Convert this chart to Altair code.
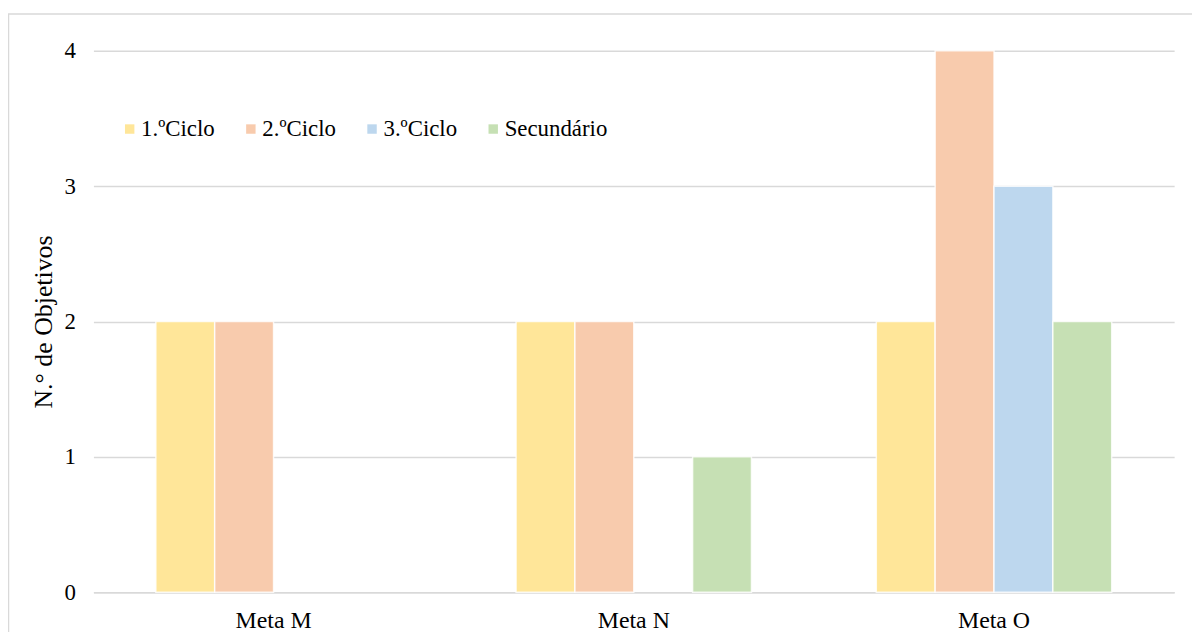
import altair as alt
import pandas as pd

categories = ["Meta M", "Meta N", "Meta O"]
series = ["1.ºCiclo", "2.ºCiclo", "3.ºCiclo", "Secundário"]
values_1ciclo = [2, 2, 2]
values_2ciclo = [2, 2, 4]
values_3ciclo = [0, 0, 3]
values_secundario = [0, 1, 2]
y_ticks = [0, 1, 2, 3, 4]
colors = ["#FFE699", "#F8CBAD", "#BDD7EE", "#C6E0B4"]

rows = []
for s, vals in zip(series, [values_1ciclo, values_2ciclo, values_3ciclo, values_secundario]):
    for c, v in zip(categories, vals):
        rows.append({"Meta": c, "Serie": s, "Valor": v})
df = pd.DataFrame(rows)

FONT = "Liberation Serif"

bars = alt.Chart(df).transform_filter("datum.Valor > 0").mark_bar(
    stroke="white", strokeWidth=1.5, strokeOpacity=0.8
).encode(
    x=alt.X("Meta:N", sort=categories,
            scale=alt.Scale(paddingInner=0.3466, paddingOuter=0.1733),
            axis=alt.Axis(title=None, labelAngle=0, ticks=False, tickSize=0,
                          labelPadding=17, domainColor="#d9d9d9", domainWidth=1.5,
                          labelFontSize=24, labelFont=FONT, labelColor="#000000")),
    xOffset=alt.XOffset("Serie:N", sort=series,
                        scale=alt.Scale(domain=series, paddingInner=0, paddingOuter=0)),
    y=alt.Y("Valor:Q", scale=alt.Scale(domain=[0, 4], nice=False),
            axis=alt.Axis(title="N.° de Objetivos", values=y_ticks, labelOverlap=False,
                          domain=False, ticks=False, tickSize=0, labelPadding=18,
                          gridColor="#d9d9d9", gridWidth=1.5,
                          labelFontSize=23, labelFont=FONT, labelColor="#000000",
                          titleFontSize=26, titleFont=FONT, titleFontWeight="normal",
                          titleColor="#000000", titlePadding=8)),
    color=alt.Color("Serie:N", sort=series,
                    scale=alt.Scale(domain=series, range=colors),
                    legend=alt.Legend(title=None, orient="none", legendX=25, legendY=67,
                                      direction="horizontal", columns=4,
                                      symbolType="square", symbolSize=90,
                                      symbolStrokeWidth=0, symbolOpacity=1,
                                      labelFontSize=23, labelFont=FONT, labelColor="#000000",
                                      labelLimit=300,
                                      labelOffset=0, columnPadding=24, padding=0)),
)

border = alt.Chart(pd.DataFrame({"a": [0]})).mark_rect(
    fill="transparent", stroke="#d9d9d9", strokeWidth=1.5
).encode(
    x=alt.value(-85.5), x2=alt.value(1130), y=alt.value(-37), y2=alt.value(700)
)

chart = alt.layer(bars, border).properties(
    width=1088, height=545,
    autosize=alt.AutoSizeParams(type="none"),
    padding={"left": 86, "top": 41, "right": 18, "bottom": 38},
).configure(background="white", font=FONT).configure_view(stroke=None).configure_legend(
    labelFont=FONT, labelFontSize=23
)

chart.save("out.html", embed_options={"renderer": "svg", "actions": False})
